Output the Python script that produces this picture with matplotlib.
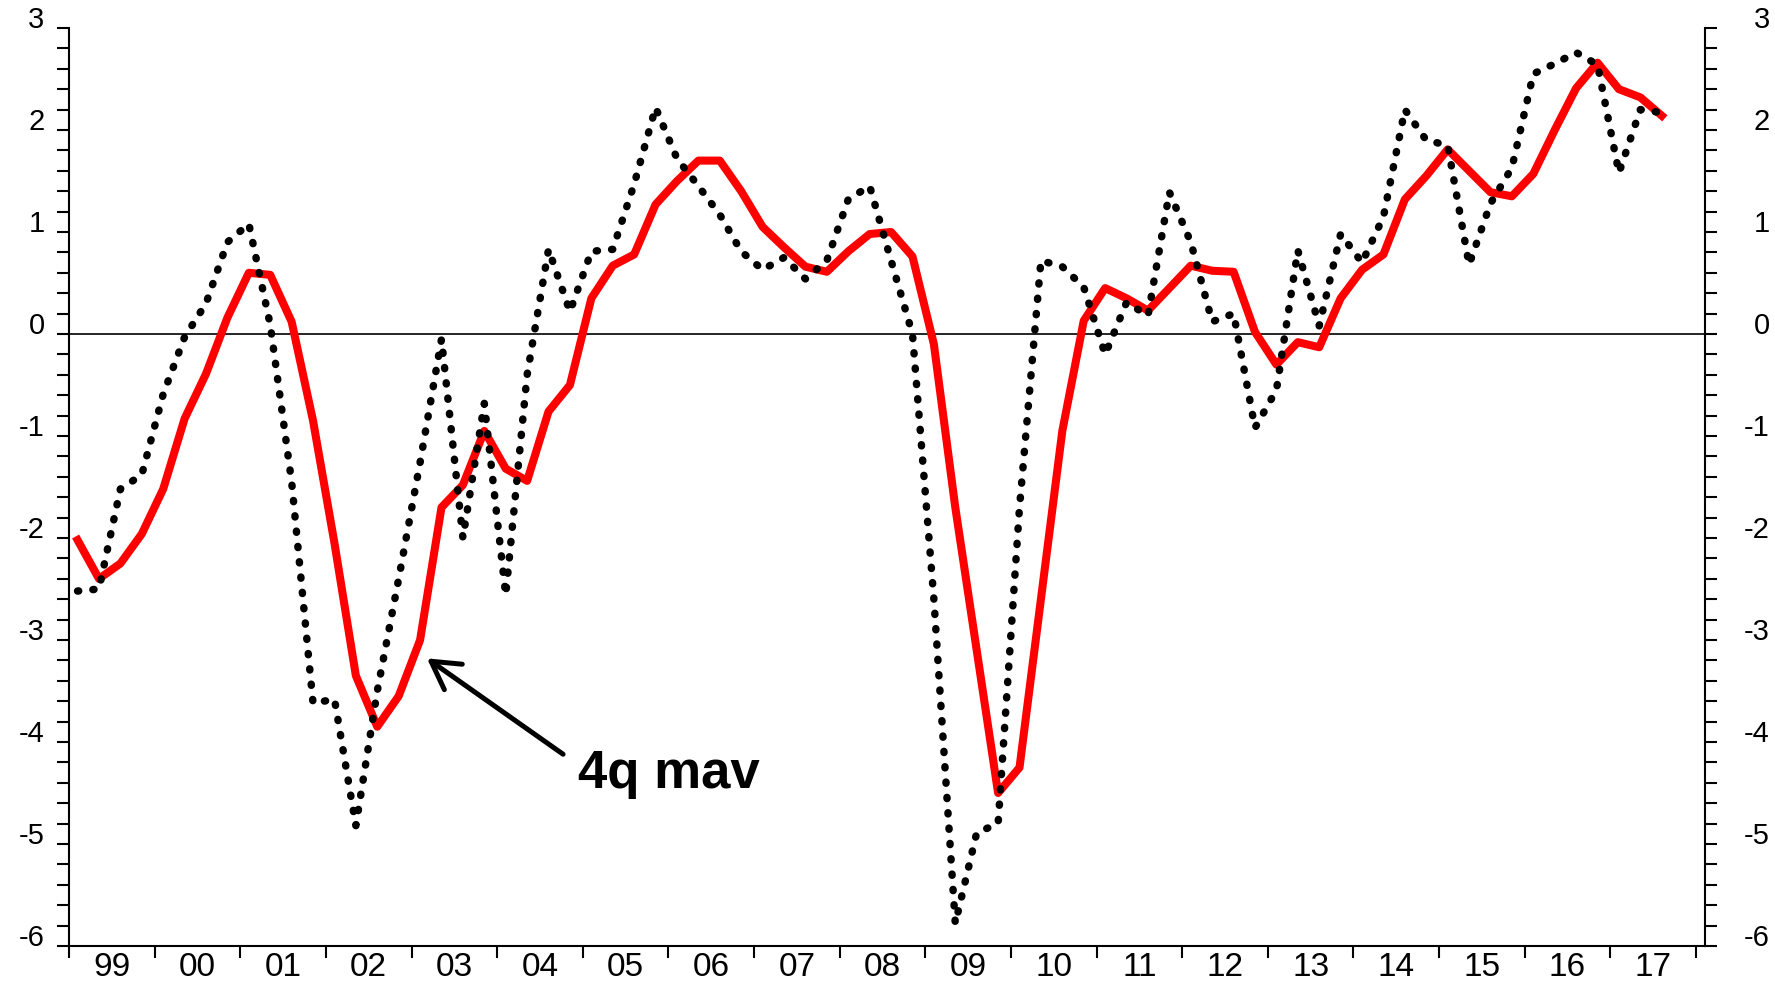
import numpy as np
import matplotlib
matplotlib.use('Agg')
import matplotlib.pyplot as plt

# quarterly data, 1999Q1 - 2017Q3
start_year = 1999
quarterly = [-2.52, -2.50, -1.52, -1.38, -0.59, -0.03, 0.30, 0.90, 1.08, 0.09,
             -1.45, -3.62, -3.58, -4.82, -3.50, -2.40, -1.26, -0.05, -2.00, -0.68,
             -2.56, -0.40, 0.83, 0.22, 0.81, 0.83, 1.47, 2.22, 1.72, 1.45,
             1.17, 0.81, 0.63, 0.75, 0.54, 0.72, 1.32, 1.45, 0.72, 0.00,
             -2.60, -5.78, -4.89, -4.80, -1.70, 0.72, 0.66, 0.46, -0.20, 0.31,
             0.18, 1.39, 0.90, 0.12, 0.20, -0.92, -0.55, 0.82, 0.08, 0.98,
             0.70, 1.15, 2.20, 1.90, 1.85, 0.68, 1.28, 1.63, 2.55, 2.65,
             2.76, 2.64, 1.58, 2.20, 2.17]
mav4 = [-2.02, -2.40, -2.25, -1.96, -1.52, -0.83, -0.39, 0.16, 0.60, 0.58,
        0.12, -0.85, -2.05, -3.35, -3.85, -3.55, -3.00, -1.70, -1.48, -0.95,
        -1.32, -1.44, -0.76, -0.50, 0.35, 0.67, 0.78, 1.27, 1.50, 1.70,
        1.70, 1.40, 1.05, 0.85, 0.66, 0.61, 0.81, 0.98, 1.00, 0.76,
        -0.10, -1.70, -3.10, -4.50, -4.25, -2.60, -0.95, 0.13, 0.45, 0.35,
        0.23, 0.45, 0.67, 0.62, 0.61, 0.02, -0.30, -0.08, -0.13, 0.35,
        0.63, 0.78, 1.32, 1.55, 1.81, 1.60, 1.39, 1.35, 1.57, 2.00,
        2.41, 2.66, 2.40, 2.32, 2.14]
years = list(range(1999, 2018))
year_labels = [f'{y % 100:02d}' for y in years]
y_ticks = list(range(-6, 4))

plt.rcParams['font.family'] = ['Liberation Sans', 'DejaVu Sans']

fig = plt.figure(figsize=(17.75, 9.83), dpi=100)
ax = fig.add_axes([69 / 1775, 1 - 946 / 983, (1705 - 69) / 1775, (946 - 28) / 983])

x = start_year + (np.arange(len(quarterly)) + 0.4) / 4

ax.axhline(0, color='black', lw=1.2, zorder=1)
ax.plot(x, mav4, color='#ff0000', lw=5.8, zorder=2)
ax.plot(x, quarterly, color='black', lw=5.4, linestyle=(0, (0.15, 1.9)),
        dash_capstyle='round', zorder=3)

ax.set_xlim(1999, 2018.105)
ax.set_ylim(-6, 3)

# year boundaries get the tick marks, labels sit in the middle of each year
ax.set_xticks(range(1999, 2019))
ax.set_xticklabels([])
ax.set_xticks([y + 0.5 for y in years], minor=True)
ax.set_xticklabels(year_labels, minor=True, fontsize=24)
ax.tick_params(axis='x', which='major', direction='out', length=8.6, width=1.5)
ax.tick_params(axis='x', which='minor', length=0, pad=4)

ax.set_yticks(y_ticks)
ax.set_yticks(np.arange(-6, 3.01, 0.2), minor=True)
ax.set_yticklabels([str(v) for v in y_ticks], va='baseline', fontsize=21)
ax.tick_params(axis='y', which='both', direction='out', length=8.6, width=1.5, pad=9)

ax2 = ax.twinx()
ax2.set_ylim(-6, 3)
ax2.set_yticks(y_ticks)
ax2.set_yticks(np.arange(-6, 3.01, 0.2), minor=True)
ax2.set_yticklabels([str(v) for v in y_ticks], va='baseline', ha='right', fontsize=21)
ax2.tick_params(axis='y', which='both', direction='out', length=8.6, width=1.5, pad=38)

for side in ['top', 'right']:
    ax.spines[side].set_visible(False)
for side in ['top', 'left', 'bottom']:
    ax2.spines[side].set_visible(False)
for sp in [ax.spines['left'], ax.spines['bottom'], ax2.spines['right']]:
    sp.set_linewidth(1.5)

ax.annotate('', xy=(2003.18, -3.18), xytext=(2004.77, -4.12),
            arrowprops=dict(arrowstyle='->,head_length=0.7,head_width=0.4', lw=3.6,
                            color='black', mutation_scale=28, shrinkA=0, shrinkB=0))
ax.text(2004.94, -4.45, '4q mav', fontsize=38, fontweight='bold', ha='left', va='baseline')

fig.savefig('out.png', dpi=100)
